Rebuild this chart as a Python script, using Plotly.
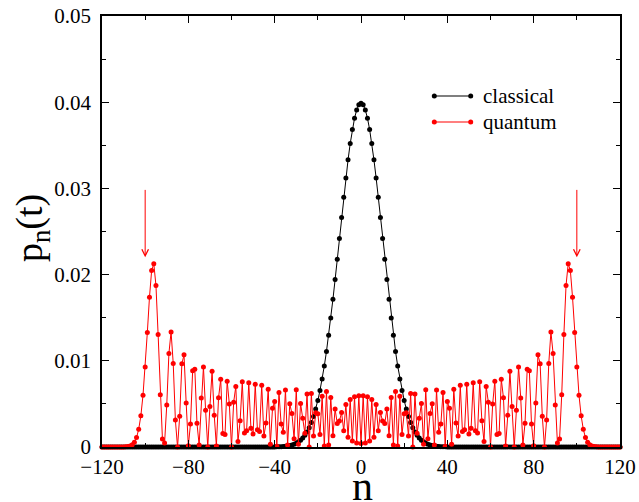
import plotly.graph_objects as go

# ---------------- data ----------------
n_values = list(range(-120, 121))

classical = [
    0, 0, 0, 0, 0, 0, 0, 0, 0, 0,
    0, 0, 0, 0, 0, 0, 0, 0, 0, 0,
    0, 0, 0, 0, 0, 0, 0, 0, 0, 0,
    0, 0, 0, 0, 0, 0, 0, 0, 0, 0,
    0, 0, 0, 0, 0, 0, 0, 0, 0, 0,
    0, 0, 0, 0, 0, 0, 0, 0, 0, 0,
    0, 0, 0, 0, 0, 0, 0, 0, 0, 0,
    0, 0, 0, 0, 0, 0, 0, 0, 0, 0,
    0.00001, 0.00002, 0.00003, 0.00004, 0.00006, 0.00009, 0.00012, 0.00017, 0.00024, 0.00033,
    0.00044, 0.00060, 0.00079, 0.00104, 0.00136, 0.00175, 0.00224, 0.00283, 0.00355, 0.00440,
    0.00540, 0.00656, 0.00789, 0.00940, 0.01109, 0.01295, 0.01497, 0.01714, 0.01942, 0.02178,
    0.02420, 0.02661, 0.02897, 0.03122, 0.03332, 0.03521, 0.03683, 0.03814, 0.03910, 0.03969,
    0.03989,
    0.03969, 0.03910, 0.03814, 0.03683, 0.03521, 0.03332, 0.03122, 0.02897, 0.02661, 0.02420,
    0.02178, 0.01942, 0.01714, 0.01497, 0.01295, 0.01109, 0.00940, 0.00789, 0.00656, 0.00540,
    0.00440, 0.00355, 0.00283, 0.00224, 0.00175, 0.00136, 0.00104, 0.00079, 0.00060, 0.00044,
    0.00033, 0.00024, 0.00017, 0.00012, 0.00009, 0.00006, 0.00004, 0.00003, 0.00002, 0.00001,
    0, 0, 0, 0, 0, 0, 0, 0, 0, 0,
    0, 0, 0, 0, 0, 0, 0, 0, 0, 0,
    0, 0, 0, 0, 0, 0, 0, 0, 0, 0,
    0, 0, 0, 0, 0, 0, 0, 0, 0, 0,
    0, 0, 0, 0, 0, 0, 0, 0, 0, 0,
    0, 0, 0, 0, 0, 0, 0, 0, 0, 0,
    0, 0, 0, 0, 0, 0, 0, 0, 0, 0,
    0, 0, 0, 0, 0, 0, 0, 0, 0, 0,
]

quantum = [
    0, 0, 0, 0, 0, 0, 0, 0,
    0.000001, 0.000004, 0.000009, 0.000022, 0.000053, 0.000122, 0.000264, 0.000551,
    0.001091, 0.002047, 0.003619, 0.006005, 0.009280, 0.013283, 0.017377, 0.020470,
    0.021266, 0.018734, 0.013046, 0.006066, 0.000937, 0.000463, 0.004874, 0.010845,
    0.013354, 0.009698, 0.003120, 0.000006, 0.003577, 0.009665, 0.010692, 0.005095,
    0.000151, 0.002675, 0.008840, 0.009025, 0.002747, 0.000238, 0.005697, 0.009279,
    0.004251, 0.000006, 0.004712, 0.008777, 0.003683, 0.000126, 0.005725, 0.007862,
    0.001570, 0.001440, 0.007641, 0.004976, 0.000002, 0.005203, 0.007025, 0.000630,
    0.003053, 0.007557, 0.001632, 0.001872, 0.007446, 0.002167, 0.001507, 0.007286,
    0.002011, 0.001794, 0.007159, 0.001264, 0.002777, 0.006699, 0.000315, 0.004481,
    0.005275, 0.000078, 0.006325, 0.002656, 0.001707, 0.006621, 0.000244, 0.005007,
    0.003884, 0.000952, 0.006634, 0.000325, 0.005053, 0.003335, 0.001582, 0.006159,
    0.000000, 0.006200, 0.001273, 0.003975, 0.003863, 0.001459, 0.005877, 0.000112,
    0.006442, 0.000227, 0.005735, 0.001319, 0.004394, 0.002726, 0.003004, 0.003991,
    0.001886, 0.004918, 0.001130, 0.005500, 0.000686, 0.005815, 0.000468, 0.005948,
    0.000403,
    0.005948, 0.000468, 0.005815, 0.000686, 0.005500, 0.001130, 0.004918, 0.001886,
    0.003991, 0.003004, 0.002726, 0.004394, 0.001319, 0.005735, 0.000227, 0.006442,
    0.000112, 0.005877, 0.001459, 0.003863, 0.003975, 0.001273, 0.006200, 0.000000,
    0.006159, 0.001582, 0.003335, 0.005053, 0.000325, 0.006634, 0.000952, 0.003884,
    0.005007, 0.000244, 0.006621, 0.001707, 0.002656, 0.006325, 0.000078, 0.005275,
    0.004481, 0.000315, 0.006699, 0.002777, 0.001264, 0.007159, 0.001794, 0.002011,
    0.007286, 0.001507, 0.002167, 0.007446, 0.001872, 0.001632, 0.007557, 0.003053,
    0.000630, 0.007025, 0.005203, 0.000002, 0.004976, 0.007641, 0.001440, 0.001570,
    0.007862, 0.005725, 0.000126, 0.003683, 0.008777, 0.004712, 0.000006, 0.004251,
    0.009279, 0.005697, 0.000238, 0.002747, 0.009025, 0.008840, 0.002675, 0.000151,
    0.005095, 0.010692, 0.009665, 0.003577, 0.000006, 0.003120, 0.009698, 0.013354,
    0.010845, 0.004874, 0.000463, 0.000937, 0.006066, 0.013046, 0.018734, 0.021266,
    0.020470, 0.017377, 0.013283, 0.009280, 0.006005, 0.003619, 0.002047, 0.001091,
    0.000551, 0.000264, 0.000122, 0.000053, 0.000022, 0.000009, 0.000004, 0.000001,
    0, 0, 0, 0, 0, 0, 0, 0,
]

arrow_n = [-100, 100]
arrow_top = 0.030
arrow_tip = 0.022

x_tickvals = [-120, -80, -40, 0, 40, 80, 120]
y_tickvals = [0, 0.01, 0.02, 0.03, 0.04, 0.05]
y_ticktext = ["0", "0.01", "0.02", "0.03", "0.04", "0.05"]

FONT = "Liberation Serif"
RED = "#ff0000"

fig = go.Figure()
fig.add_trace(go.Scatter(
    x=n_values, y=classical, mode="lines+markers", name="classical",
    line=dict(color="black", width=1), marker=dict(color="black", size=5),
    cliponaxis=False, showlegend=False))
fig.add_trace(go.Scatter(
    x=n_values, y=quantum, mode="lines+markers", name="quantum",
    line=dict(color=RED, width=1), marker=dict(color=RED, size=5),
    cliponaxis=False, showlegend=False))

annotations = []
for xa in arrow_n:
    annotations.append(dict(
        x=xa, y=arrow_tip, ax=xa, ay=arrow_top, xref="x", yref="y",
        axref="x", ayref="y", text="", showarrow=True, arrowhead=5,
        arrowsize=1.3, arrowwidth=1, arrowcolor=RED, standoff=0))

# plot area in page pixels
PX0, PW, PY1, PH = 102.0, 518.0, 447.0, 431.0


def px2paper_x(px):
    return (px - PX0) / PW


def px2paper_y(py):
    return (PY1 - py) / PH


# legend (manual, markers at both ends of the line as in the reference)
L_X0, L_X1 = 434.3, 470.7
shapes = []
for label, color, py in [("classical", "black", 96), ("quantum", RED, 122)]:
    shapes.append(dict(type="line", xref="paper", yref="paper",
                       x0=px2paper_x(L_X0), x1=px2paper_x(L_X1),
                       y0=px2paper_y(py), y1=px2paper_y(py),
                       line=dict(color=color, width=1.2)))
    for lx in (L_X0, L_X1):
        shapes.append(dict(type="circle", xref="paper", yref="paper",
                           xsizemode="pixel", ysizemode="pixel",
                           xanchor=px2paper_x(lx), yanchor=px2paper_y(py),
                           x0=-2.5, x1=2.5, y0=-2.5, y1=2.5,
                           fillcolor=color, line=dict(color=color, width=0)))
    annotations.append(dict(x=px2paper_x(481), y=px2paper_y(py), xref="paper", yref="paper",
                            text=label, showarrow=False, xanchor="left", yanchor="middle",
                            font=dict(family=FONT, size=21, color="black")))

# axis titles
annotations.append(dict(x=px2paper_x(362), y=px2paper_y(486), xref="paper", yref="paper",
                        text="n", showarrow=False, xanchor="center", yanchor="middle",
                        font=dict(family=FONT, size=42, color="black")))
annotations.append(dict(x=px2paper_x(32), y=px2paper_y(228), xref="paper", yref="paper",
                        text="p<sub>n</sub>(t)", showarrow=False, textangle=-90,
                        xanchor="center", yanchor="middle",
                        font=dict(family=FONT, size=38, color="black")))

axis_common = dict(showgrid=False, zeroline=False, showline=True, linecolor="black",
                   linewidth=1.5, ticks="inside", ticklen=7, tickwidth=1, tickcolor="black",
                   mirror="ticks", ticklabeloverflow="allow",
                   tickfont=dict(family=FONT, size=21, color="black"))

fig.update_layout(
    width=639, height=502,
    margin=dict(l=102, r=19, t=16, b=55, autoexpand=False),
    paper_bgcolor="white", plot_bgcolor="white",
    xaxis=dict(range=[-120, 120], tickvals=x_tickvals, ticklabelstandoff=0,
               minor=dict(dtick=20, tick0=-120, ticklen=4, ticks="inside", tickcolor="black"),
               **axis_common),
    yaxis=dict(range=[0, 0.05], tickvals=y_tickvals, ticktext=y_ticktext, ticklabelstandoff=5,
               minor=dict(dtick=0.005, tick0=0, ticklen=4, ticks="inside", tickcolor="black"),
               **axis_common),
    shapes=shapes, annotations=annotations, showlegend=False,
)

fig.write_html(
    "out.html",
    config={"displayModeBar": False},
    post_script="document.body.style.margin='0px';document.body.style.overflow='hidden';",
)
